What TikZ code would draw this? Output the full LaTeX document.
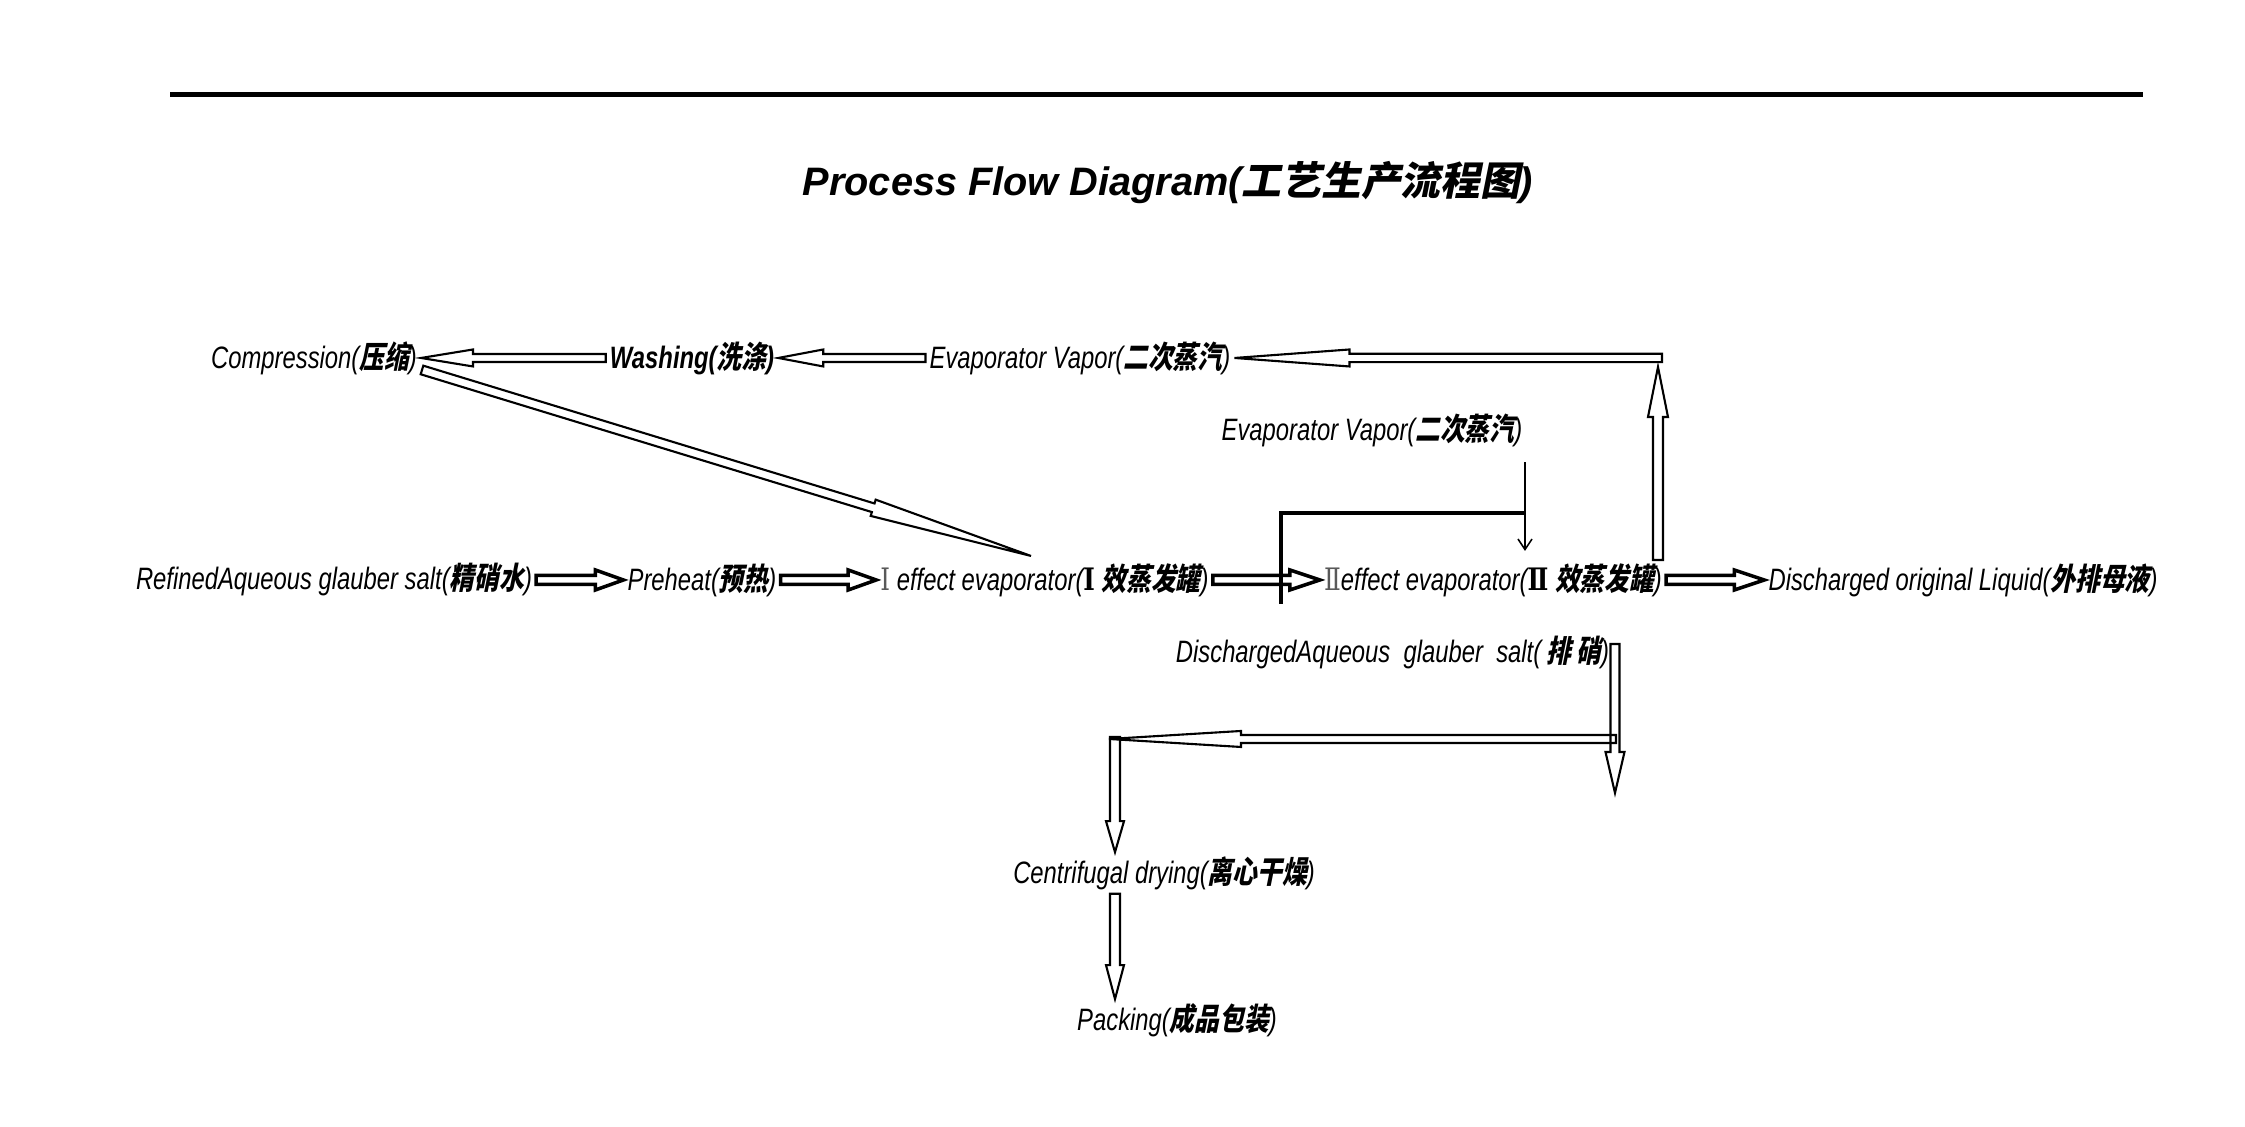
\documentclass[tikz,border=0pt]{standalone}
\usepackage{fontspec}
\setmainfont{Liberation Sans}
\newfontfamily\lab{Liberation Sans}[FakeStretch=0.77]
\newfontfamily\cjk{Noto Sans CJK SC}[FakeSlant=0.2,FakeStretch=0.8]
\newfontfamily\serifnum{DejaVu Serif}[FakeStretch=0.8]
\newfontfamily\cjktitle{Noto Sans CJK SC}[FakeSlant=0.2]
\usepackage{tikz}
\usetikzlibrary{calc}
\usetikzlibrary{arrows.meta}

\newcommand{\zh}[1]{{\cjk\bfseries #1}}
\newcommand{\numI}[1]{{\serifnum\mdseries\upshape\color{black!65}#1}}
\newcommand{\numB}[1]{{\serifnum\bfseries\upshape #1}}
\newcommand{\blockarrow}[6][]{%
	\coordinate (hb) at ($(#3)!#6!(#2)$);
	\draw[block,#1] ($(#2)!#4!90:(#3)$) -- ($(hb)!#4!90:(#3)$) -- ($(hb)!#5!90:(#3)$) -- (#3)
		-- ($(hb)!#5!-90:(#3)$) -- ($(hb)!#4!-90:(#3)$) -- ($(#2)!#4!-90:(#3)$) -- cycle;
}

\begin{document}
\begin{tikzpicture}[lbl/.style={font=\lab\itshape\fontsize{8.8}{10}\selectfont,inner sep=1pt},
	block/.style={line width=0.6pt,line join=miter},
	heavy/.style={line width=1pt}]
	\useasboundingbox (0,0) rectangle (22.45,11.27);
	\draw [line width=1.4pt](1.70,10.325) -- (21.43,10.325);
	\node (title) at (11.68,9.44) {\fontsize{11.3}{13}\selectfont\bfseries\itshape Process Flow Diagram({\cjktitle 工艺生产流程图})};

	\node[lbl] (comp) at (3.14,7.69) {Compression(\zh{压缩})};
	\node[lbl] (wash) at (6.92,7.69) {\bfseries Washing(\zh{洗涤})};
	\node[lbl] (vap1) at (10.80,7.69) {Evaporator Vapor(\zh{二次蒸汽})};
	\node[lbl] (vap2) at (13.72,6.97) {Evaporator Vapor(\zh{二次蒸汽})};
	\node[lbl] (refined) at (3.34,5.47) {RefinedAqueous glauber salt(\zh{精硝水})};
	\node[lbl] (preheat) at (7.02,5.47) {Preheat(\zh{预热})};
	\node[lbl] (evap1) at (10.445,5.47) {\numI{Ⅰ} effect evaporator(\numB{Ⅰ} \zh{效蒸发罐})};
	\node[lbl] (evap2) at (14.93,5.47) {\numI{Ⅱ}effect evaporator(\numB{Ⅱ} \zh{效蒸发罐})};
	\node[lbl] (disch) at (19.63,5.47) {Discharged original Liquid(\zh{外排母液})};
	\node[lbl] (salt) at (13.925,4.74) {DischargedAqueous\ \ glauber\ \ salt(\,\zh{排\,硝})};
	\node[lbl] (dry) at (11.64,2.54) {Centrifugal drying(\zh{离心干燥})};
	\node[lbl] (pack) at (11.77,1.07) {Packing(\zh{成品包装})};

	\coordinate (corner) at (16.62,7.69);
	\coordinate (rise) at (16.58,5.67);
	\coordinate (risetop) at (16.58,7.60);
	\coordinate (dstart) at (4.22,7.57);
	\coordinate (dtip) at (10.31,5.71);
	\coordinate (drop) at (16.15,4.83);
	\coordinate (droptip) at (16.15,3.34);
	\coordinate (turn) at (16.16,3.88);
	\coordinate (turntip) at (11.09,3.88);
	\coordinate (fall) at (11.15,3.90);
	\coordinate (vtop) at (15.25,6.645);
	\coordinate (vtip) at (15.25,5.76);
	\coordinate (bar) at (12.81,5.23);
	\coordinate (barjoin) at (15.25,6.14);

	\blockarrow{wash.west}{comp.east}{0.04cm}{0.085cm}{0.52cm}
	\blockarrow{vap1.west}{wash.east}{0.04cm}{0.085cm}{0.45cm}
	\blockarrow{corner}{vap1.east}{0.042cm}{0.085cm}{1.15cm}
	\blockarrow{rise}{risetop}{0.05cm}{0.1cm}{0.5cm}
	\blockarrow{dstart}{dtip}{0.045cm}{0.085cm}{1.65cm}

	\blockarrow[heavy]{refined.east}{preheat.west}{0.045cm}{0.1cm}{0.28cm}
	\blockarrow[heavy]{preheat.east}{evap1.west}{0.045cm}{0.1cm}{0.28cm}
	\blockarrow[heavy]{evap1.east}{evap2.west}{0.045cm}{0.1cm}{0.3cm}
	\blockarrow[heavy]{evap2.east}{disch.west}{0.045cm}{0.1cm}{0.3cm}

	\blockarrow{drop}{droptip}{0.045cm}{0.095cm}{0.41cm}
	\blockarrow{turn}{turntip}{0.04cm}{0.08cm}{1.32cm}
	\blockarrow{fall}{dry.north -| fall}{0.05cm}{0.09cm}{0.31cm}
	\blockarrow{dry.south -| fall}{pack.north -| fall}{0.05cm}{0.09cm}{0.34cm}

	\draw [line width=0.45pt,-{Straight Barb[length=3pt,width=4pt]}](vtop) -- (vtip);
	\draw [line width=0.9pt](bar) |- (barjoin);
\end{tikzpicture}
\end{document}
